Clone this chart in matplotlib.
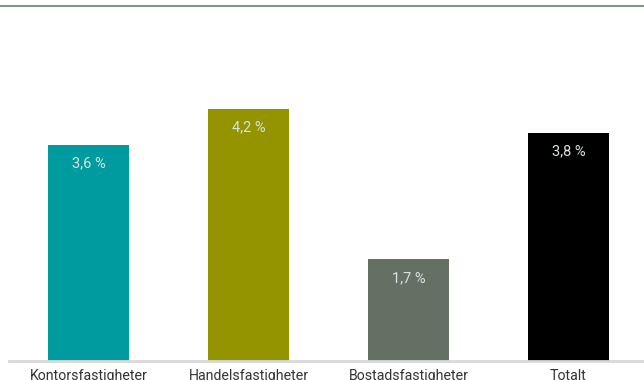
import matplotlib
matplotlib.use("Agg")
import matplotlib.pyplot as plt
from matplotlib.lines import Line2D

categories = ["Kontorsfastigheter", "Handelsfastigheter", "Bostadsfastigheter", "Totalt"]
values = [3.6, 4.2, 1.7, 3.8]
labels = ["3,6 %", "4,2 %", "1,7 %", "3,8 %"]
colors = ["#009B9E", "#949400", "#657065", "#000000"]

W, H = 644, 380
fig = plt.figure(figsize=(W/100, H/100), dpi=100)
plt.rcParams['font.family'] = ['Roboto', 'DejaVu Sans']
ax = fig.add_axes([8.5/W, (H-361)/H, 640/W, 355/H])
x = range(len(categories))
ax.bar(x, values, width=0.506, color=colors, zorder=2)
ax.set_xlim(-0.5, 3.5)
ax.set_ylim(0, 355/60.1)
for i, (v, l) in enumerate(zip(values, labels)):
    ax.annotate(l, (i, v), xytext=(0, -19), textcoords='offset pixels',
                ha='center', va='center', fontsize=10.5, color='#d5e3e1')
ax.set_xticks(list(x))
ax.set_xticklabels(categories, fontsize=10.2, color='#333333')
ax.tick_params(axis='x', length=0, pad=6)
ax.set_yticks([])
for s in ['left', 'right', 'top']:
    ax.spines[s].set_visible(False)
ax.spines['bottom'].set_color('#d9d9d9')
ax.spines['bottom'].set_linewidth(2.0)
fig.add_artist(Line2D([0, 1], [1-5.5/H, 1-5.5/H], color='#8a9589', linewidth=1.5, transform=fig.transFigure))
fig.savefig("out.png", dpi=100)
